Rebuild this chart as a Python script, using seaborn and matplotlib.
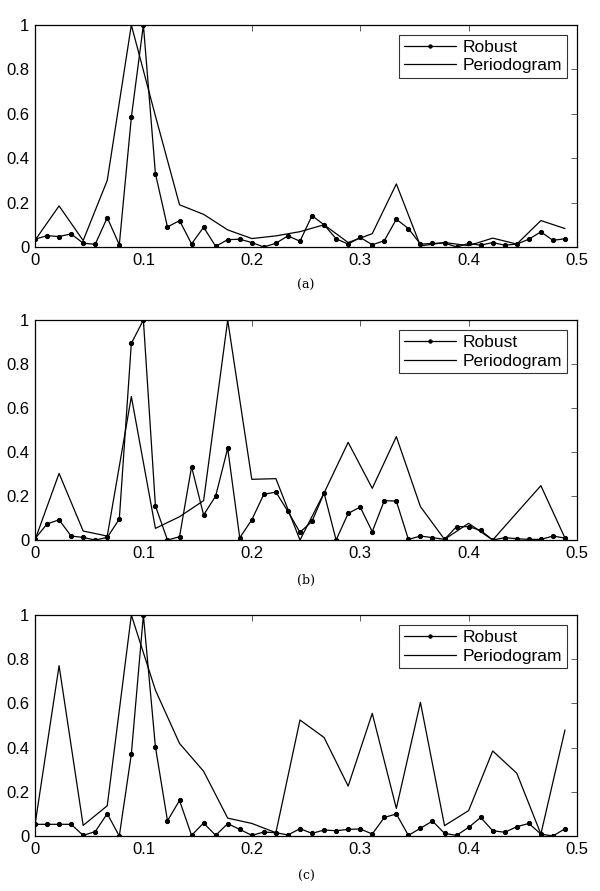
import numpy as np
import pandas as pd
import matplotlib
matplotlib.use("Agg")
import matplotlib.pyplot as plt
import seaborn as sns

# Robust estimates sampled every 1/90, periodogram every 1/45
freq_robust = [i / 90 for i in range(45)]
freq_period = [i / 45 for i in range(23)]

robust_a = [0.035, 0.051, 0.047, 0.059, 0.017, 0.012, 0.132, 0.010, 0.584, 1.000,
            0.330, 0.090, 0.119, 0.014, 0.089, 0.003, 0.033, 0.035, 0.020, 0.000,
            0.017, 0.050, 0.026, 0.141, 0.100, 0.037, 0.013, 0.043, 0.010, 0.028,
            0.125, 0.083, 0.013, 0.016, 0.018, 0.000, 0.016, 0.008, 0.020, 0.008,
            0.013, 0.035, 0.068, 0.030, 0.037]
period_a = [0.030, 0.185, 0.029, 0.300, 1.000, 0.590, 0.190, 0.147, 0.077, 0.038,
            0.050, 0.069, 0.100, 0.020, 0.060, 0.284, 0.005, 0.020, 0.006, 0.040,
            0.013, 0.119, 0.083]

robust_b = [0.006, 0.073, 0.092, 0.018, 0.012, 0.000, 0.012, 0.095, 0.894, 1.000,
            0.155, 0.000, 0.015, 0.333, 0.114, 0.200, 0.417, 0.010, 0.092, 0.208,
            0.218, 0.130, 0.035, 0.085, 0.214, 0.000, 0.121, 0.150, 0.038, 0.179,
            0.177, 0.003, 0.018, 0.011, 0.003, 0.061, 0.061, 0.044, 0.000, 0.011,
            0.006, 0.003, 0.003, 0.018, 0.009]
period_b = [0.000, 0.303, 0.041, 0.018, 0.652, 0.053, 0.106, 0.179, 1.000, 0.276,
            0.279, 0.000, 0.214, 0.444, 0.235, 0.470, 0.152, 0.003, 0.076, 0.000,
            0.124, 0.247, 0.009]

robust_c = [0.053, 0.053, 0.053, 0.053, 0.003, 0.020, 0.101, 0.000, 0.371, 1.000,
            0.403, 0.069, 0.161, 0.003, 0.059, 0.003, 0.056, 0.030, 0.003, 0.018,
            0.015, 0.005, 0.033, 0.012, 0.027, 0.024, 0.030, 0.032, 0.009, 0.084,
            0.100, 0.003, 0.035, 0.068, 0.012, 0.003, 0.039, 0.084, 0.024, 0.017,
            0.042, 0.057, 0.009, 0.000, 0.033]
period_c = [0.050, 0.771, 0.048, 0.137, 1.000, 0.660, 0.419, 0.293, 0.081, 0.057,
            0.015, 0.525, 0.446, 0.226, 0.555, 0.125, 0.605, 0.047, 0.115, 0.385,
            0.284, 0.009, 0.480]

panel_labels = ["(a)", "(b)", "(c)"]
x_ticks = [0, 0.1, 0.2, 0.3, 0.4, 0.5]
x_ticklabels = ["0", "0.1", "0.2", "0.3", "0.4", "0.5"]
y_ticks = [0, 0.2, 0.4, 0.6, 0.8, 1.0]
y_ticklabels = ["0", "0.2", "0.4", "0.6", "0.8", "1"]

sns.set_style("white")
plt.rcParams["font.family"] = ["Liberation Sans", "DejaVu Sans"]
plt.rcParams["text.color"] = "black"
plt.rcParams["xtick.color"] = "black"
plt.rcParams["ytick.color"] = "black"
plt.rcParams["xtick.labelcolor"] = "black"
plt.rcParams["ytick.labelcolor"] = "black"
plt.rcParams["xtick.direction"] = "in"
plt.rcParams["ytick.direction"] = "in"

fig = plt.figure(figsize=(6.0, 8.91), dpi=100)
positions = [
    [0.0583, 0.7228, 0.9034, 0.2492],
    [0.0583, 0.3939, 0.9034, 0.2469],
    [0.0583, 0.0617, 0.9034, 0.2480],
]
label_y = [0.680, 0.349, 0.016]

panels = [(robust_a, period_a), (robust_b, period_b), (robust_c, period_c)]

for i, (rob, per) in enumerate(panels):
    ax = fig.add_axes(positions[i])
    df_r = pd.DataFrame({"freq": freq_robust, "value": rob})
    df_p = pd.DataFrame({"freq": freq_period, "value": per})
    sns.lineplot(data=df_r, x="freq", y="value", ax=ax, color="black",
                 linewidth=0.9, marker="o", markersize=3.0,
                 markeredgecolor="black", label="Robust")
    sns.lineplot(data=df_p, x="freq", y="value", ax=ax, color="black",
                 linewidth=0.9, label="Periodogram")
    ax.set_xlim(0, 0.5)
    ax.set_ylim(0, 1)
    ax.set_xticks(x_ticks)
    ax.set_xticklabels(x_ticklabels, fontsize=12)
    ax.set_yticks(y_ticks)
    ax.set_yticklabels(y_ticklabels, fontsize=12)
    ax.set_xlabel("")
    ax.set_ylabel("")
    ax.tick_params(axis="both", which="both", direction="in", length=4,
                   width=0.6, top=True, right=True, color="#444444",
                   labelcolor="black", pad=4)
    for sp in ax.spines.values():
        sp.set_visible(True)
        sp.set_linewidth(0.9)
        sp.set_color("black")
    leg = ax.legend(loc="upper right", fontsize=12.5, frameon=True, fancybox=False,
                    handlelength=3.0, borderpad=0.25, labelspacing=0.2,
                    handletextpad=0.4, borderaxespad=0.6, numpoints=1,
                    markerscale=0.8)
    leg.get_frame().set_edgecolor("black")
    leg.get_frame().set_linewidth(0.8)
    for t in leg.get_texts():
        t.set_color("black")
    fig.text(0.51, label_y[i], panel_labels[i], ha="center", va="center",
             fontsize=9, family=["DejaVu Serif"], color="black")

fig.savefig("out.png", dpi=100)
